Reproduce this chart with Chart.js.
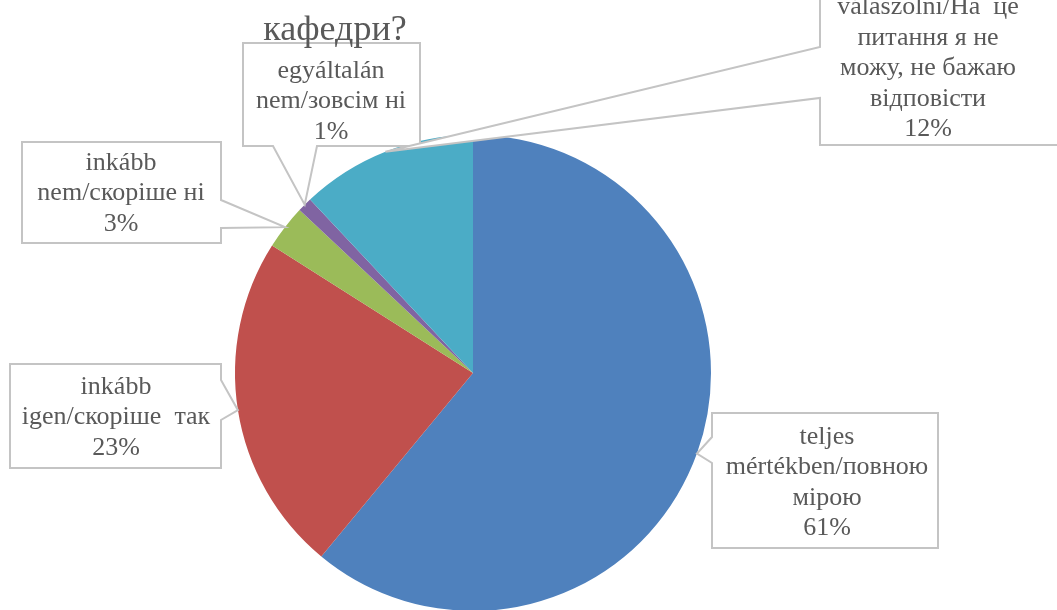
<!DOCTYPE html>
<html>
<head>
<meta charset="utf-8">
<script src="https://cdn.jsdelivr.net/npm/chart.js@4"></script>
<style>
  html, body { margin: 0; padding: 0; background: #fff; overflow: hidden; }
  #wrap { position: relative; width: 1057px; height: 612px; }
</style>
</head>
<body>
<div id="wrap"><canvas id="pieChart"></canvas></div>
<script>
// Data
const categories = [
    ['teljes', 'mértékben/повною', 'мірою'],
    ['inkább', 'igen/скоріше  так'],
    ['inkább', 'nem/скоріше ні'],
    ['egyáltalán', 'nem/зовсім ні'],
    ['nem tudok', 'válaszolni/На  це', 'питання я не', 'можу, не бажаю', 'відповісти']
];
const values = [61, 23, 3, 1, 12];
const colors = ['#4F81BD', '#C0504D', '#9BBB59', '#8064A2', '#4BACC6'];
const titleLines = ['кафедри?'];

// Callout boxes (layout only): rect + side where the pointer leaves + pointer base span
const boxes = [
    { x0: 712, y0: 413, x1: 938, y1: 548, side: 'left', a: 437, b: 463, cx: 827, ty: 437 },
    { x0: 10, y0: 364, x1: 221, y1: 468, side: 'right', a: 380, b: 420, cx: 116, ty: 387 },
    { x0: 22, y0: 142, x1: 221, y1: 243, side: 'right', a: 200, b: 228, cx: 121, ty: 163 },
    { x0: 243, y0: 43, x1: 420, y1: 146, side: 'bottom', a: 273, b: 317, cx: 331, ty: 71 },
    { x0: 820, y0: -40, x1: 1070, y1: 145, side: 'left', a: 47, b: 98, cx: 928, ty: -23 }
];

const calloutPlugin = {
    id: 'callouts',
    afterDatasetsDraw(chart) {
        const ctx = chart.ctx;
        const meta = chart.getDatasetMeta(0);
        ctx.save();
        boxes.forEach((b, i) => {
            const arc = meta.data[i];
            const p = arc.getProps(['x', 'y', 'startAngle', 'endAngle', 'outerRadius'], true);
            const mid = (p.startAngle + p.endAngle) / 2;
            const tx = p.x + Math.cos(mid) * p.outerRadius;
            const ty = p.y + Math.sin(mid) * p.outerRadius;

            ctx.beginPath();
            ctx.moveTo(b.x0, b.y0);
            ctx.lineTo(b.x1, b.y0);
            if (b.side === 'right') {
                ctx.lineTo(b.x1, b.a);
                ctx.lineTo(tx, ty);
                ctx.lineTo(b.x1, b.b);
            }
            ctx.lineTo(b.x1, b.y1);
            if (b.side === 'bottom') {
                ctx.lineTo(b.b, b.y1);
                ctx.lineTo(tx, ty);
                ctx.lineTo(b.a, b.y1);
            }
            ctx.lineTo(b.x0, b.y1);
            if (b.side === 'left') {
                ctx.lineTo(b.x0, b.b);
                ctx.lineTo(tx, ty);
                ctx.lineTo(b.x0, b.a);
            }
            ctx.closePath();
            ctx.fillStyle = '#ffffff';
            ctx.fill();
            ctx.lineWidth = 2;
            ctx.strokeStyle = '#C4C4C4';
            ctx.stroke();

            const lines = categories[i].concat([values[i] + '%']);
            ctx.fillStyle = '#595959';
            ctx.font = '26px "Liberation Serif"';
            ctx.textAlign = 'center';
            ctx.textBaseline = 'middle';
            lines.forEach((t, k) => ctx.fillText(t, b.cx, b.ty + k * 30.5));
        });

        ctx.fillStyle = '#595959';
        ctx.font = '36px "Liberation Serif"';
        ctx.textAlign = 'center';
        ctx.textBaseline = 'middle';
        titleLines.forEach((t, k) => ctx.fillText(t, 335, 31 + k * 40));
        ctx.restore();
    }
};

const ctx = document.getElementById('pieChart').getContext('2d');
new Chart(ctx, {
    type: 'pie',
    data: {
        labels: categories.map(c => c.join(' ')),
        datasets: [{
            data: values,
            backgroundColor: colors,
            borderWidth: 0
        }]
    },
    options: {
        responsive: true,
        maintainAspectRatio: false,
        animation: false,
        layout: { padding: { left: 235, right: 346, top: 135, bottom: 1 } },
        plugins: {
            legend: { display: false },
            tooltip: { enabled: false }
        }
    },
    plugins: [calloutPlugin]
});
</script>
</body>
</html>
